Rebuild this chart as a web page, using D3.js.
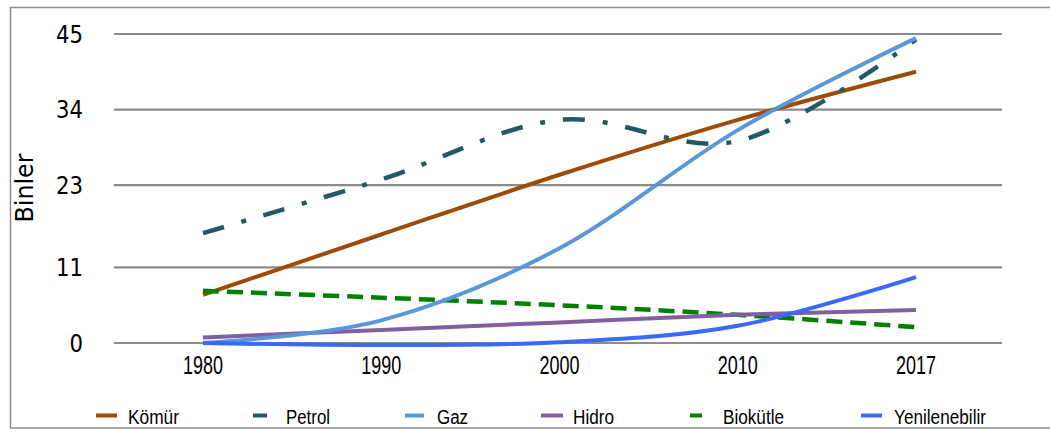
<!DOCTYPE html>
<html><head><meta charset="utf-8">
<script src="https://cdn.jsdelivr.net/npm/d3@7/dist/d3.min.js"></script>
<style>body{margin:0;background:#fff}svg{display:block}</style>
</head><body>
<svg id="c" width="1050" height="432"></svg>
<script>
const years = ["1980","1990","2000","2010","2017"];
const komur = [7.0, 15.8, 24.5, 32.5, 39.5];
const petrol = [16.0, 23.8, 32.5, 29.4, 44.2];
const gaz = [0.0, 3.3, 13.8, 31.0, 44.4];
const hidro = [0.8, 1.9, 3.0, 4.1, 4.8];
const biokutle = [7.6, 6.6, 5.5, 4.1, 2.3];
const yenilenebilir = [0.0, -0.3, 0.1, 2.5, 9.6];
const yTicks = [0, 11, 23, 34, 45];
const seriesNames = ["Kömür","Petrol","Gaz","Hidro","Biokütle","Yenilenebilir"];

const series = [
  {name:"Kömür", values:komur, color:"#9C4B08", dash:null, width:4},
  {name:"Petrol", values:petrol, color:"#215A66", dash:"22,18,5,18", width:4.5},
  {name:"Gaz", values:gaz, color:"#5B96DB", dash:null, width:4},
  {name:"Hidro", values:hidro, color:"#7F5FA0", dash:null, width:4},
  {name:"Biokütle", values:biokutle, color:"#008000", dash:"16,8", width:4.5},
  {name:"Yenilenebilir", values:yenilenebilir, color:"#3A69F5", dash:null, width:4}
];

const svg = d3.select("#c");
svg.append("rect").attr("x",10.5).attr("y",7.5).attr("width",1050).attr("height",420.5)
  .attr("fill","none").attr("stroke","#8c8c8c").attr("stroke-width",1.5);

const x = d3.scalePoint().domain(years).range([203, 916]);
const y = d3.scaleLinear().domain([0,45]).range([343, 34]);

// grid
svg.append("g").selectAll("line").data(yTicks).join("line")
  .attr("x1",114).attr("x2",1002)
  .attr("y1",d=>y(d)).attr("y2",d=>y(d))
  .attr("stroke","#8c8c8c").attr("stroke-width",2.2);

// y labels
svg.append("g").selectAll("text").data(yTicks).join("text")
  .attr("x",83).attr("y",d=>y(d)+8.7).attr("text-anchor","end")
  .attr("font-family","DejaVu Sans").attr("font-size",24).attr("fill","#000")
  .attr("textLength",d=>String(d).length*13.5).attr("lengthAdjust","spacingAndGlyphs")
  .text(d=>d);

svg.append("text").attr("transform","translate(33,188) rotate(-90)")
  .attr("text-anchor","middle").attr("font-family","DejaVu Sans").attr("font-size",24)
  .attr("textLength",69).attr("lengthAdjust","spacingAndGlyphs")
  .text("Binler");

// x labels
svg.append("g").selectAll("text").data(years).join("text")
  .attr("x",d=>x(d)).attr("y",374).attr("text-anchor","middle")
  .attr("font-family","Liberation Sans, Arial, sans-serif").attr("font-size",25)
  .attr("textLength",40).attr("lengthAdjust","spacingAndGlyphs")
  .text(d=>d);

const line = d3.line().x((d,i)=>x(years[i])).y(d=>y(d)).curve(d3.curveCatmullRom.alpha(0));

const order = ["Kömür","Petrol","Biokütle","Hidro","Gaz","Yenilenebilir"];
svg.append("g").selectAll("path").data(order.map(n=>series.find(s=>s.name===n))).join("path")
  .attr("d",d=>line(d.values)).attr("fill","none")
  .attr("stroke",d=>d.color).attr("stroke-width",d=>d.width)
  .attr("stroke-dasharray",d=>d.dash);

// legend
const legX = [96, 253, 405, 541, 690, 861];
const legTx = [128, 286, 437, 573, 723, 894];
const legW = [51, 44, 31, 41, 61, 92];
const legDash = [null, null, null, null, "12,7,4,20", null];
const legLen = [21, 14, 19, 22, 19, 21];
const lg = svg.append("g");
series.forEach((s,i)=>{
  lg.append("line").attr("x1",legX[i]).attr("x2",legX[i]+legLen[i]).attr("y1",415.5).attr("y2",415.5)
    .attr("stroke",s.color).attr("stroke-width",4).attr("stroke-dasharray",legDash[i]);
  lg.append("text").attr("x",legTx[i]).attr("y",424).attr("font-family","Liberation Sans, Arial, sans-serif")
    .attr("font-size",19.5).attr("textLength",legW[i]).attr("lengthAdjust","spacingAndGlyphs")
    .text(seriesNames[i]);
});
</script>
</body></html>
